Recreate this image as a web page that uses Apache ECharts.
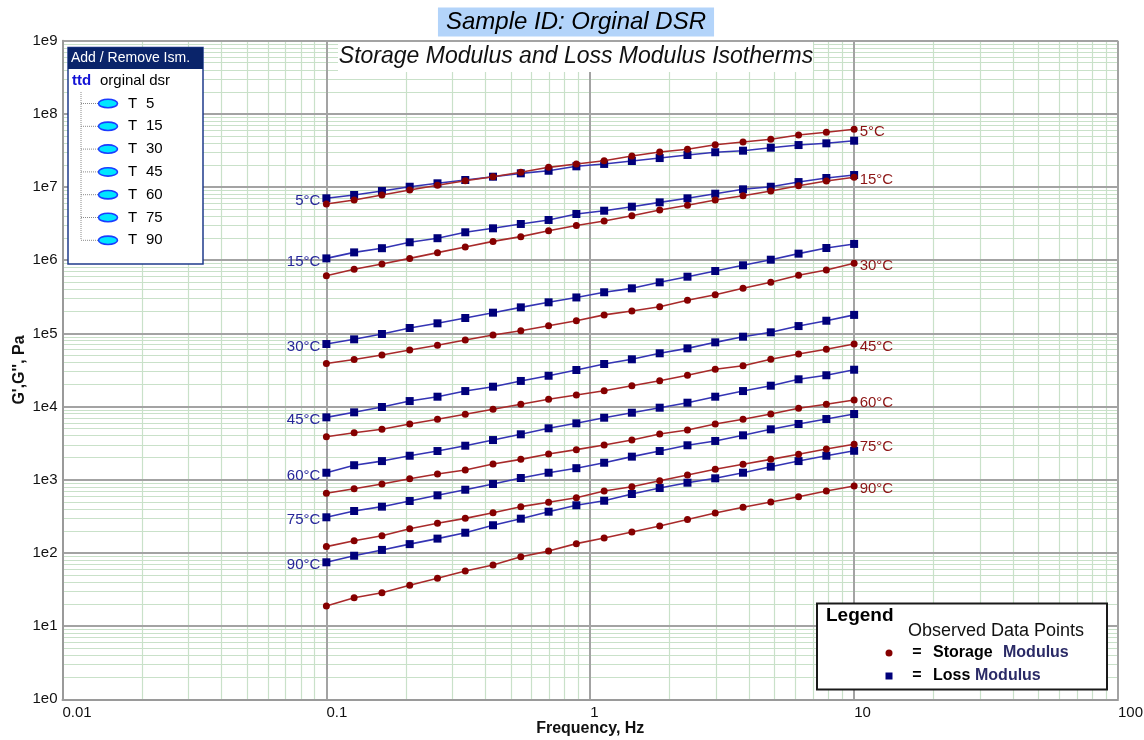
<!DOCTYPE html>
<html>
<head>
<meta charset="utf-8">
<script src="https://cdn.jsdelivr.net/npm/echarts@6/dist/echarts.min.js"></script>
<style>
  html, body { margin: 0; padding: 0; background: #fff; }
  #chart { width: 1144px; height: 740px; }
</style>
</head>
<body>
<div id="chart"></div>
<script>
// Frequency sweep, Hz (20 log-spaced points per isotherm)
const frequencies = [0.1, 0.1274, 0.1624, 0.2069, 0.2637, 0.336, 0.4281, 0.5456, 0.6952, 0.8859,
  1.129, 1.438, 1.833, 2.336, 2.976, 3.793, 4.833, 6.158, 7.848, 10];

const temperatureLabels = ['5°C', '15°C', '30°C', '45°C', '60°C', '75°C', '90°C'];
const isothermNames = ['T  5', 'T  15', 'T  30', 'T  45', 'T  60', 'T  75', 'T  90'];

// Storage modulus G', Pa
const storage5C = [5.87e6, 6.66e6, 7.79e6, 9.12e6, 1.057e7, 1.222e7, 1.385e7, 1.59e7, 1.86e7, 2.07e7,
  2.29e7, 2.66e7, 3.01e7, 3.28e7, 3.79e7, 4.12e7, 4.49e7, 5.14e7, 5.60e7, 6.15e7];
const storage15C = [6.15e5, 7.52e5, 8.87e5, 1.06e6, 1.27e6, 1.52e6, 1.81e6, 2.10e6, 2.53e6, 2.98e6,
  3.44e6, 4.06e6, 4.86e6, 5.63e6, 6.66e6, 7.62e6, 8.83e6, 1.04e7, 1.21e7, 1.36e7];
const storage30C = [3.88e4, 4.40e4, 5.07e4, 5.93e4, 6.88e4, 8.13e4, 9.51e4, 1.086e5, 1.27e5, 1.49e5,
  1.79e5, 2.02e5, 2.32e5, 2.84e5, 3.38e5, 4.13e5, 4.99e5, 6.22e5, 7.35e5, 9.08e5];
const storage45C = [3880, 4400, 4890, 5780, 6700, 7850, 9180, 10740, 12570, 14400,
  16500, 19300, 22600, 26800, 32300, 36200, 44300, 52300, 60700, 71600];
const storage60C = [653, 755, 875, 1033, 1198, 1360, 1640, 1900, 2250, 2580,
  2990, 3490, 4220, 4790, 5780, 6700, 7920, 9480, 10740, 12300];
const storage75C = [122, 147, 172, 214, 254, 297, 355, 429, 492, 569,
  702, 804, 971, 1161, 1390, 1630, 1900, 2230, 2630, 3050];
const storage90C = [18.8, 24.4, 28.6, 36.1, 45.0, 56.6, 68.4, 88.9, 106, 134,
  160, 193, 233, 286, 351, 421, 497, 587, 702, 822];

// Loss modulus G'', Pa
const loss5C = [7.02e6, 7.79e6, 8.83e6, 1.01e7, 1.125e7, 1.248e7, 1.385e7, 1.54e7, 1.67e7, 1.92e7,
  2.07e7, 2.27e7, 2.49e7, 2.74e7, 2.99e7, 3.14e7, 3.45e7, 3.75e7, 3.96e7, 4.30e7];
const loss15C = [1.06e6, 1.28e6, 1.46e6, 1.76e6, 2.0e6, 2.41e6, 2.73e6, 3.13e6, 3.55e6, 4.28e6,
  4.75e6, 5.39e6, 6.18e6, 7.02e6, 8.11e6, 9.31e6, 1.01e7, 1.17e7, 1.33e7, 1.46e7];
const loss30C = [7.16e4, 8.30e4, 9.82e4, 1.185e5, 1.374e5, 1.625e5, 1.92e5, 2.27e5, 2.66e5, 3.10e5,
  3.65e5, 4.13e5, 4.99e5, 5.96e5, 7.13e5, 8.53e5, 1.017e6, 1.23e6, 1.47e6, 1.67e6];
const loss45C = [7130, 8350, 9870, 11900, 13650, 16300, 18700, 22400, 26400, 31600,
  38200, 44300, 53500, 62500, 75500, 90200, 103500, 126000, 149000, 179000];
const loss60C = [1248, 1580, 1800, 2130, 2470, 2920, 3490, 4180, 5050, 5910,
  7050, 8250, 9660, 11300, 13650, 16300, 19300, 23600, 26800, 31900];
const loss75C = [307, 374, 429, 513, 613, 731, 875, 1057, 1248, 1440,
  1710, 2070, 2470, 2960, 3390, 4050, 4890, 5780, 6760, 7920];
const loss90C = [74.5, 91.6, 110, 132, 157, 189, 239, 294, 366, 448,
  517, 639, 771, 912, 1047, 1248, 1510, 1800, 2130, 2490];

// Axis tick labels
const xTickLabels = ['0.01', '0.1', '1', '10', '100'];
const yTickLabels = ['1e0', '1e1', '1e2', '1e3', '1e4', '1e5', '1e6', '1e7', '1e8', '1e9'];

const storageSets = [storage5C, storage15C, storage30C, storage45C, storage60C, storage75C, storage90C];
const lossSets = [loss5C, loss15C, loss30C, loss45C, loss60C, loss75C, loss90C];

const FONT = "'Liberation Sans', Arial, sans-serif";
const STORAGE_LINE = '#a82a2a', STORAGE_POINT = '#850000', STORAGE_TEXT = '#8c1414';
const LOSS_LINE = '#3434b4', LOSS_POINT = '#00007a', LOSS_TEXT = '#26269a';
const MAJOR_GRID = '#a3a3a3', MINOR_GRID = '#c9e1c9';

// Grid lines: minor lines at 2..9 of every decade, major lines at decades
function decadeLines(minExp, maxExp) {
  const minor = [], major = [];
  for (let e = minExp; e <= maxExp; e++) {
    const base = Math.pow(10, e);
    major.push(base);
    if (e < maxExp) for (let m = 2; m <= 9; m++) minor.push(+(m * base).toPrecision(3));
  }
  return { minor, major };
}
const xLines = decadeLines(-2, 2);
const yLines = decadeLines(0, 9);
const gridLineData = [
  ...xLines.minor.map(v => ({ xAxis: v, lineStyle: { color: MINOR_GRID, width: 1.2, type: 'solid' } })),
  ...yLines.minor.map(v => ({ yAxis: v, lineStyle: { color: MINOR_GRID, width: 1.2, type: 'solid' } })),
  ...xLines.major.map(v => ({ xAxis: v, lineStyle: { color: MAJOR_GRID, width: 2, type: 'solid' } })),
  ...yLines.major.map(v => ({ yAxis: v, lineStyle: { color: MAJOR_GRID, width: 2, type: 'solid' } }))
];

function toPairs(values) {
  return frequencies.map((f, i) => [f, values[i]]);
}

const series = [{
  type: 'line',
  name: 'grid',
  data: [],
  silent: true,
  z: -2,
  markLine: {
    silent: true,
    z: -2,
    symbol: ['none', 'none'],
    label: { show: false },
    emphasis: { disabled: true },
    animation: false,
    data: gridLineData
  }
}];

lossSets.forEach((values, t) => {
  const data = toPairs(values);
  data[0] = {
    value: data[0],
    label: {
      show: true, position: 'left', distance: 2, offset: [0, 3],
      formatter: temperatureLabels[t], color: LOSS_TEXT, fontSize: 15, fontFamily: FONT
    }
  };
  series.push({
    type: 'line', name: "G'' " + temperatureLabels[t], data,
    symbol: 'rect', symbolSize: 8, z: 3,
    lineStyle: { color: LOSS_LINE, width: 1.6 },
    itemStyle: { color: LOSS_POINT },
    label: { show: false },
    emphasis: { disabled: true }
  });
});

storageSets.forEach((values, t) => {
  const data = toPairs(values);
  const last = data.length - 1;
  data[last] = {
    value: data[last],
    label: {
      show: true, position: 'right', distance: 2, offset: [0, 3],
      formatter: temperatureLabels[t], color: STORAGE_TEXT, fontSize: 15, fontFamily: FONT
    }
  };
  series.push({
    type: 'line', name: "G' " + temperatureLabels[t], data,
    symbol: 'circle', symbolSize: 7, z: 4,
    lineStyle: { color: STORAGE_LINE, width: 1.6 },
    itemStyle: { color: STORAGE_POINT },
    label: { show: false },
    emphasis: { disabled: true }
  });
});

// Isotherm selection panel (top-left)
const panelItems = [];
isothermNames.forEach((name, i) => {
  const y = 103.5 + i * 22.8;
  const parts = name.split(/\s+/);
  panelItems.push(
    { type: 'line', shape: { x1: 81, y1: y, x2: 98, y2: y }, style: { stroke: '#8a8a8a', lineWidth: 1, lineDash: [1, 1] } },
    { type: 'ellipse', shape: { cx: 108, cy: y, rx: 9.5, ry: 4.2 }, style: { fill: '#00e6ff', stroke: '#1b3cff', lineWidth: 1.6 } },
    { type: 'text', x: 128, y: y, style: { text: parts[0], font: '15px ' + FONT, fill: '#000', verticalAlign: 'middle' } },
    { type: 'text', x: 146, y: y, style: { text: parts[1], font: '15px ' + FONT, fill: '#000', verticalAlign: 'middle' } }
  );
});

const graphic = [
  // Title with highlight
  { type: 'text', x: 576, y: 22,
    style: { text: 'Sample ID: Orginal DSR', font: 'italic 24px ' + FONT, fill: '#000',
      align: 'center', verticalAlign: 'middle', backgroundColor: '#b3d4fa', padding: [3, 8, 2, 8] } },
  // Subtitle on a white band over the grid
  { type: 'rect', shape: { x: 338, y: 42, width: 475, height: 30 }, style: { fill: '#fff' } },
  { type: 'text', x: 576, y: 57,
    style: { text: 'Storage Modulus and Loss Modulus Isotherms', font: 'italic 23px ' + FONT, fill: '#111',
      align: 'center', verticalAlign: 'middle' } },
  // Panel
  { type: 'group', children: [
    { type: 'rect', shape: { x: 68, y: 47.5, width: 135, height: 216.5 }, style: { fill: '#fff', stroke: '#1f3b8c', lineWidth: 1.5 } },
    { type: 'rect', shape: { x: 68, y: 47.5, width: 135, height: 21.5 }, style: { fill: '#0a246a' } },
    { type: 'text', x: 71, y: 58.5, style: { text: 'Add / Remove Ism.', font: '14px ' + FONT, fill: '#fff', verticalAlign: 'middle' } },
    { type: 'text', x: 72, y: 81, style: { text: 'ttd', font: 'bold 15px ' + FONT, fill: '#1212d6', verticalAlign: 'middle' } },
    { type: 'text', x: 100, y: 81, style: { text: 'orginal dsr', font: '15px ' + FONT, fill: '#000', verticalAlign: 'middle' } },
    { type: 'line', shape: { x1: 81, y1: 92, x2: 81, y2: 240 }, style: { stroke: '#8a8a8a', lineWidth: 1, lineDash: [1, 1] } },
    ...panelItems
  ] },
  // Marker legend (bottom-right)
  { type: 'group', children: [
    { type: 'rect', shape: { x: 817, y: 603.5, width: 290, height: 86 }, style: { fill: '#fff', stroke: '#1a1a1a', lineWidth: 2 } },
    { type: 'text', x: 826, y: 616, style: { text: 'Legend', font: 'bold 19px ' + FONT, fill: '#000', verticalAlign: 'middle' } },
    { type: 'text', x: 908, y: 631, style: { text: 'Observed Data Points', font: '18px ' + FONT, fill: '#111', verticalAlign: 'middle' } },
    { type: 'circle', shape: { cx: 889, cy: 653, r: 3.5 }, style: { fill: STORAGE_POINT } },
    { type: 'text', x: 917, y: 653, style: { text: '=', font: 'bold 16px ' + FONT, fill: '#000', align: 'center', verticalAlign: 'middle' } },
    { type: 'text', x: 933, y: 653, style: { text: 'Storage', font: 'bold 16px ' + FONT, fill: '#000', verticalAlign: 'middle' } },
    { type: 'text', x: 1003, y: 653, style: { text: 'Modulus', font: 'bold 16px ' + FONT, fill: '#2a2a66', verticalAlign: 'middle' } },
    { type: 'rect', shape: { x: 885.5, y: 672.5, width: 7, height: 7 }, style: { fill: LOSS_POINT } },
    { type: 'text', x: 917, y: 676, style: { text: '=', font: 'bold 16px ' + FONT, fill: '#000', align: 'center', verticalAlign: 'middle' } },
    { type: 'text', x: 933, y: 676, style: { text: 'Loss', font: 'bold 16px ' + FONT, fill: '#000', verticalAlign: 'middle' } },
    { type: 'text', x: 975, y: 676, style: { text: 'Modulus', font: 'bold 16px ' + FONT, fill: '#2a2a66', verticalAlign: 'middle' } }
  ] }
];

const chart = echarts.init(document.getElementById('chart'), null, { renderer: 'canvas' });
chart.setOption({
  animation: false,
  backgroundColor: '#fff',
  textStyle: { fontFamily: FONT },
  grid: { left: 62.5, top: 40.7, width: 1055.5, height: 658.6, containLabel: false, outerBoundsMode: 'none' },
  xAxis: {
    type: 'log', logBase: 10, min: 0.01, max: 100, interval: 1,
    name: 'Frequency, Hz', nameLocation: 'middle', nameGap: 21, nameMoveOverlap: false,
    nameTextStyle: { fontSize: 16, fontWeight: 'bold', color: '#111', fontFamily: FONT, verticalAlign: 'top' },
    axisLine: { show: true, lineStyle: { color: '#9a9a9a', width: 2 } },
    axisTick: { show: false },
    splitLine: { show: false },
    axisLabel: {
      color: '#111', fontSize: 15, fontFamily: FONT, align: 'left', margin: 6,
      formatter: (v, i) => xTickLabels[i] ?? ''
    }
  },
  yAxis: {
    type: 'log', logBase: 10, min: 1, max: 1e9, interval: 1,
    name: "G',G'', Pa", nameLocation: 'middle', nameGap: 35, nameRotate: 90, nameMoveOverlap: false,
    nameTextStyle: { fontSize: 16, fontWeight: 'bold', color: '#111', fontFamily: FONT },
    axisLine: { show: true, lineStyle: { color: '#9a9a9a', width: 2 } },
    axisTick: { show: false },
    splitLine: { show: false },
    axisLabel: {
      color: '#111', fontSize: 15, fontFamily: FONT, margin: 5,
      formatter: (v, i) => yTickLabels[i] ?? ''
    }
  },
  series,
  graphic
});
</script>
</body>
</html>
